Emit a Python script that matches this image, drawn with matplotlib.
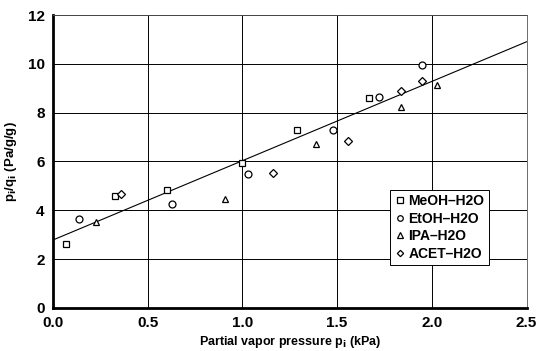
import numpy as np
import matplotlib
matplotlib.use("Agg")
import matplotlib.pyplot as plt

# data
meoh_x = [0.07, 0.33, 0.60, 1.00, 1.29, 1.67]
meoh_y = [2.62, 4.58, 4.82, 5.92, 7.30, 8.60]
etoh_x = [0.14, 0.63, 1.03, 1.48, 1.72, 1.95]
etoh_y = [3.66, 4.25, 5.50, 7.27, 8.66, 9.96]
ipa_x = [0.23, 0.91, 1.39, 1.84, 2.03]
ipa_y = [3.51, 4.45, 6.72, 8.25, 9.14]
acet_x = [0.36, 1.16, 1.56, 1.84, 1.95]
acet_y = [4.68, 5.52, 6.83, 8.89, 9.30]
fit_intercept = 2.78
fit_slope = 3.25
x_ticks = [0.0, 0.5, 1.0, 1.5, 2.0, 2.5]
y_ticks = [0, 2, 4, 6, 8, 10, 12]

plt.rcParams["font.family"] = ["Liberation Sans", "DejaVu Sans"]
plt.rcParams["mathtext.default"] = "bf"

fig, ax = plt.subplots(figsize=(5.4, 3.51), dpi=100)
fig.subplots_adjust(left=0.098, right=0.975, top=0.957, bottom=0.123)

fx = np.array([0.0, 2.5])
ax.plot(fx, fit_intercept + fit_slope * fx, color="k", lw=0.8, zorder=2)

mk = dict(ls="none", mfc="white", mec="k", mew=0.9, zorder=3)
ax.plot(meoh_x, meoh_y, marker="s", ms=5, label="MeOH\u2013H2O", **mk)
ax.plot(etoh_x, etoh_y, marker="o", ms=5, label="EtOH\u2013H2O", **mk)
ax.plot(ipa_x, ipa_y, marker="^", ms=5, label="IPA\u2013H2O", **mk)
ax.plot(acet_x, acet_y, marker="D", ms=4, label="ACET\u2013H2O", **mk)

ax.set_xlim(0, 2.5)
ax.set_ylim(0, 12)
ax.set_xticks(x_ticks)
ax.set_xticklabels([f"{v:.1f}" for v in x_ticks], fontweight="bold")
ax.set_yticks(y_ticks)
ax.set_yticklabels([str(v) for v in y_ticks], fontweight="bold")
ax.tick_params(length=0, labelsize=11, pad=6)
ax.grid(True, color="k", lw=0.7)
ax.set_axisbelow(True)
for s in ["top", "right"]:
    ax.spines[s].set_linewidth(0.6)
    ax.spines[s].set_color("#555555")
for s in ["left", "bottom"]:
    ax.spines[s].set_linewidth(2.0)

ax.set_xlabel("Partial vapor pressure p$_i$ (kPa)", fontsize=9, fontweight="bold", labelpad=3)
ax.set_ylabel("p$_i$/q$_i$ (Pa/g/g)", fontsize=9.5, fontweight="bold", labelpad=6)

leg = ax.legend(loc="lower left", bbox_to_anchor=(0.698, 0.123),
                prop={"size": 10, "weight": "bold"},
                frameon=True, fancybox=False, edgecolor="k", framealpha=1,
                handletextpad=0.2, handlelength=0.8, borderpad=0.3, labelspacing=0.25,
                markerscale=0.8)
leg.get_frame().set_linewidth(0.7)

fig.savefig("out.png", dpi=100)
